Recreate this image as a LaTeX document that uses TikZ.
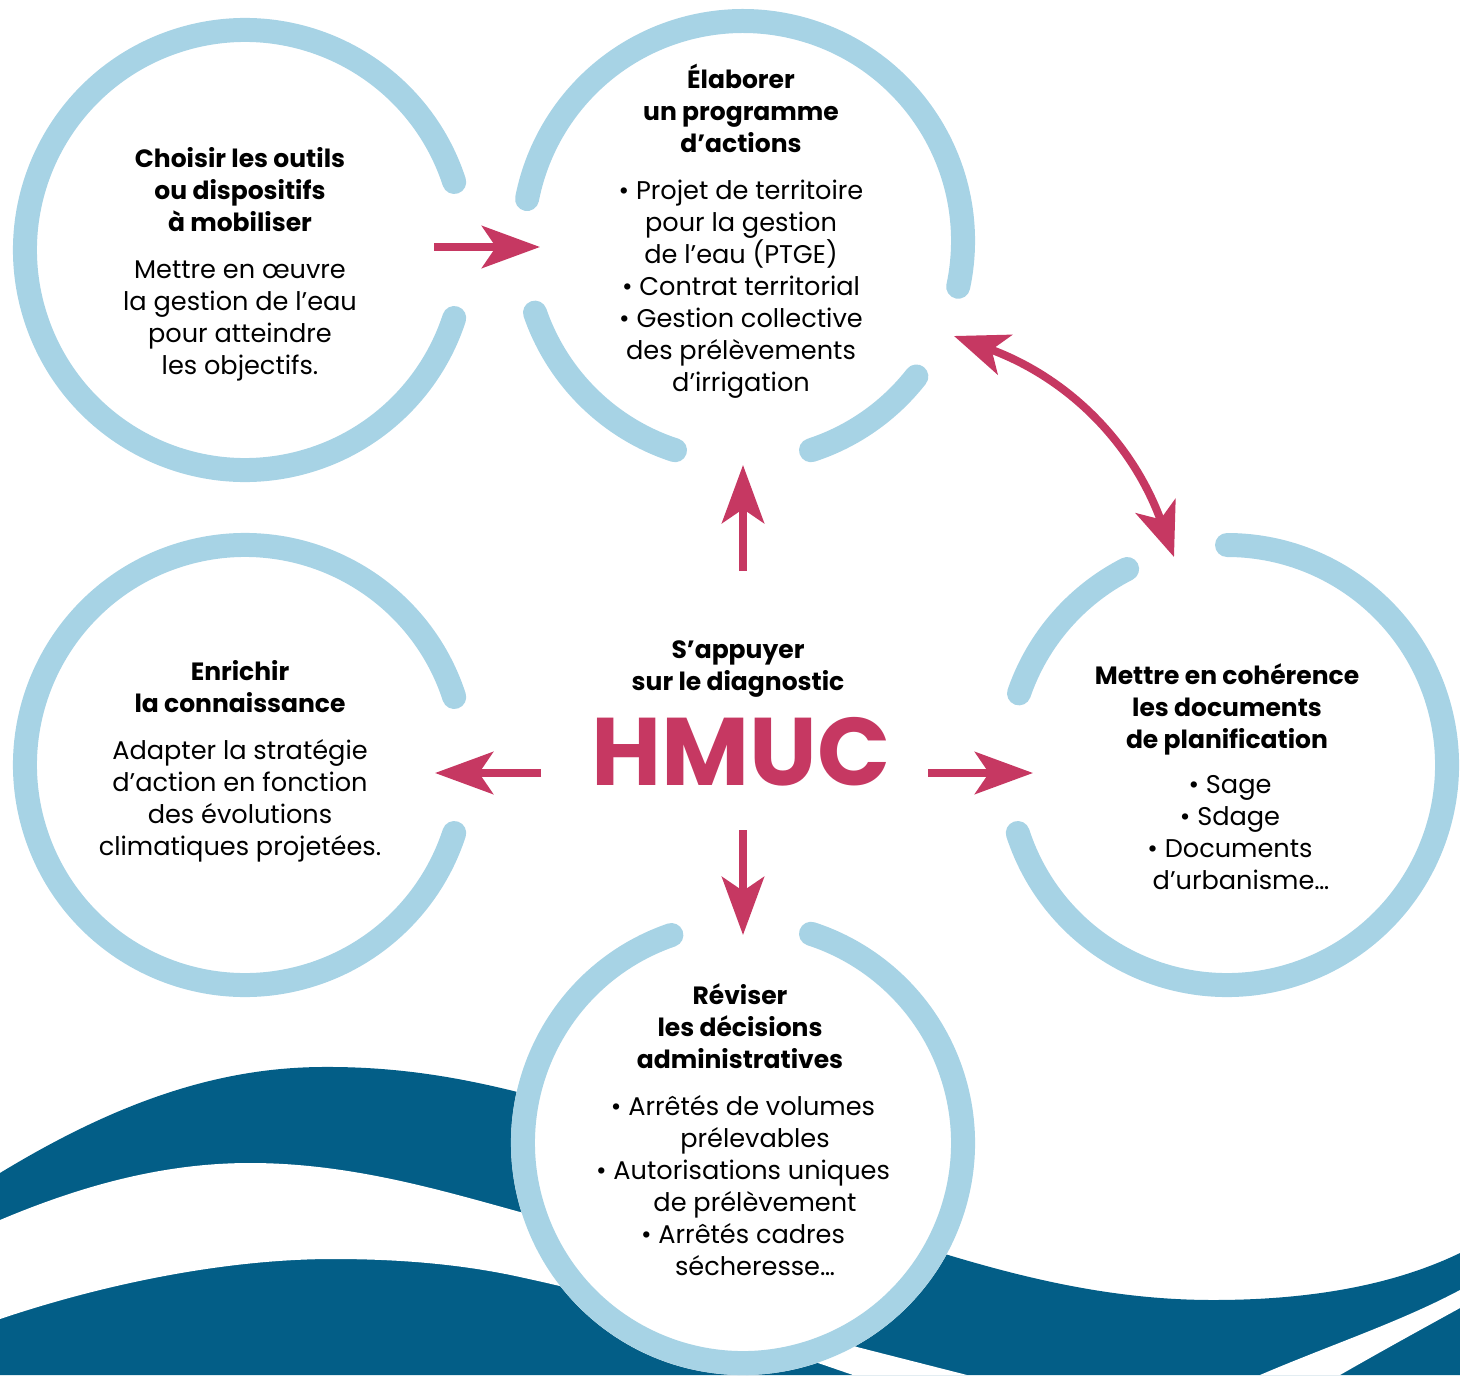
\documentclass[tikz,border=0pt]{standalone}
\usepackage{fontspec}
\setmainfont{Poppins}
\newfontfamily\hmucfont{Poppins}
\usetikzlibrary{arrows.meta}

\definecolor{ringblue}{HTML}{A7D3E5}
\definecolor{hmucred}{HTML}{C63862}
\definecolor{waveblue}{HTML}{035E87}

\begin{document}
\begin{tikzpicture}[x=0.5pt, y=0.5pt,
    ring/.style={draw=ringblue, line width=12pt, line cap=round},
    heading/.style={align=center, inner sep=0pt, font=\fontsize{12.5}{16}\selectfont\bfseries},
    bodytext/.style={align=center, inner sep=0pt, font=\fontsize{12.8}{16}\selectfont},
    arr/.style={draw=hmucred, line width=4pt, -{Stealth[length=29pt, width=21pt, inset=7pt]}},
    dblarr/.style={draw=hmucred, line width=4pt, {Stealth[length=27pt, width=21pt, inset=7pt]}-{Stealth[length=27pt, width=21pt, inset=7pt]}}]

    \useasboundingbox (0,0) rectangle (1460,-1375);

    % vagues
    \fill[waveblue] (0,-1173) .. controls (120,-1100) and (220,-1068) .. (320,-1067)
        .. controls (420,-1066) and (500,-1085) .. (600,-1115) -- (900,-1240)
        .. controls (1000,-1272) and (1100,-1300) .. (1213,-1300)
        .. controls (1320,-1300) and (1400,-1282) .. (1460,-1253)
        -- (1460,-1375) -- (0,-1375) -- cycle;
    \fill[white] (0,-1220) .. controls (90,-1182) and (170,-1163) .. (250,-1163)
        .. controls (350,-1163) and (440,-1190) .. (520,-1212)
        .. controls (650,-1250) and (760,-1310) .. (857,-1347) -- (967,-1375)
        -- (853,-1375) .. controls (760,-1343) and (650,-1305) .. (520,-1277)
        .. controls (470,-1266) and (410,-1259) .. (333,-1259)
        .. controls (230,-1259) and (110,-1282) .. (0,-1319) -- cycle;
    \fill[white] (1260,-1375) .. controls (1330,-1345) and (1400,-1322) .. (1460,-1290)
        -- (1460,-1308) .. controls (1420,-1330) and (1380,-1352) .. (1340,-1375) -- cycle;

    % cercles
    \coordinate (c-choisir) at (245,-250);
    \coordinate (c-elaborer) at (743,-241);
    \coordinate (c-enrichir) at (245,-765);
    \coordinate (c-coherence) at (1227,-765);
    \coordinate (c-reviser) at (743,-1143);

    \fill[white] (c-reviser) circle[radius=116pt];
    \draw[ring] (c-choisir) ++(18:110pt) arc[start angle=18, end angle=342, radius=110pt];
    \draw[ring] (c-elaborer) ++(-12:110pt) arc[start angle=-12, end angle=169, radius=110pt];
    \draw[ring] (c-elaborer) ++(199:110pt) arc[start angle=199, end angle=252, radius=110pt];
    \draw[ring] (c-elaborer) ++(288:110pt) arc[start angle=288, end angle=322, radius=110pt];
    \draw[ring] (c-enrichir) ++(18:110pt) arc[start angle=18, end angle=342, radius=110pt];
    \draw[ring] (c-coherence) ++(117:110pt) arc[start angle=117, end angle=161, radius=110pt];
    \draw[ring] (c-coherence) ++(198:110pt) arc[start angle=198, end angle=450, radius=110pt];
    \draw[ring] (c-reviser) ++(109:110pt) arc[start angle=109, end angle=432, radius=110pt];

    % textes
    \node[heading] (choisir) at (240,-190) {Choisir les outils\\ou dispositifs\\à mobiliser};
    \node[bodytext] (choisir-txt) at (240,-321) {Mettre en œuvre\\la gestion de l’eau\\pour atteindre\\les objectifs.};

    \node[heading] (elaborer) at (741,-108) {Élaborer\\un programme\\d’actions};
    \node[bodytext] (elaborer-txt) at (741,-289) {• Projet de territoire\\pour la gestion\\de l’eau (PTGE)\\• Contrat territorial\\• Gestion collective\\des prélèvements\\d’irrigation};

    \node[heading] (coherence) at (1227,-709) {Mettre en cohérence\\les documents\\de planification};
    \node[bodytext] (coherence-txt) at (1230,-833) {• Sage\\• Sdage\\• Documents\\\hspace*{11pt}d’urbanisme…};

    \node[heading] (enrichir) at (240,-687) {Enrichir\\la connaissance};
    \node[bodytext] (enrichir-txt) at (240,-801) {Adapter la stratégie\\d’action en fonction\\des évolutions\\climatiques projetées.};

    \node[heading] (reviser) at (740,-1026) {Réviser\\les décisions\\administratives};
    \node[bodytext] (reviser-txt) at (743,-1186) {• Arrêtés de volumes\\\hspace*{12pt}prélevables\\• Autorisations uniques\\\hspace*{12pt}de prélèvement\\• Arrêtés cadres\\\hspace*{12pt}sécheresse…};

    \node[heading] (diag) at (738,-669) {S’appuyer\\sur le diagnostic};
    \node[inner sep=0pt, text=hmucred, font=\hmucfont\bfseries\fontsize{48}{48}\selectfont] (hmuc) at (741,-752) {HMUC};

    % flèches
    \coordinate (choisir-out) at (434,-247);
    \coordinate (elaborer-in) at (540,-247);
    \coordinate (hub-n) at (743,-571);
    \coordinate (elaborer-s) at (743,-465);
    \coordinate (hub-w) at (541,-773);
    \coordinate (enrichir-e) at (435,-773);
    \coordinate (hub-e) at (928,-773);
    \coordinate (coherence-w) at (1033,-773);
    \coordinate (hub-s) at (743,-830);
    \coordinate (reviser-n) at (743,-935);
    \coordinate (elaborer-se) at (954,-336);
    \coordinate (coherence-n) at (1174,-557);

    \draw[arr] (choisir-out) -- (elaborer-in);
    \draw[arr] (hub-n) -- (elaborer-s);
    \draw[arr] (hub-w) -- (enrichir-e);
    \draw[arr] (hub-e) -- (coherence-w);
    \draw[arr] (hub-s) -- (reviser-n);
    \draw[dblarr] (elaborer-se) to[bend left=25] (coherence-n);
\end{tikzpicture}
\end{document}
